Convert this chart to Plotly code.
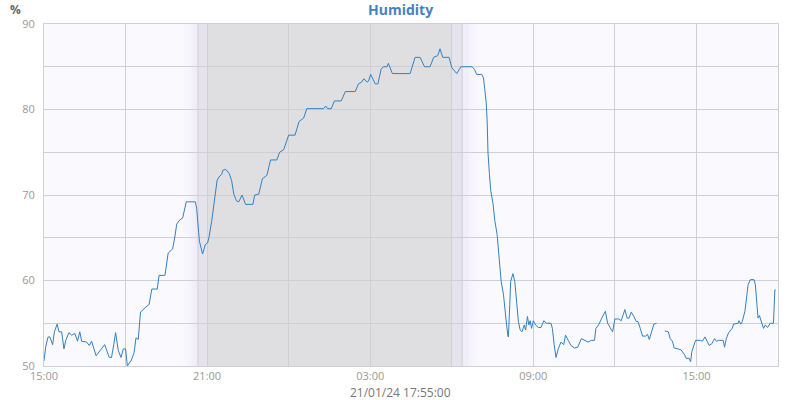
import plotly.graph_objects as go
import pandas as pd

# ---- data ----
times = [
    "2024-01-20 15:00", "2024-01-20 15:04", "2024-01-20 15:09", "2024-01-20 15:13", "2024-01-20 15:19",
    "2024-01-20 15:23", "2024-01-20 15:29", "2024-01-20 15:33", "2024-01-20 15:39", "2024-01-20 15:44",
    "2024-01-20 15:48", "2024-01-20 15:55", "2024-01-20 16:01", "2024-01-20 16:08", "2024-01-20 16:14",
    "2024-01-20 16:19", "2024-01-20 16:23", "2024-01-20 16:34", "2024-01-20 16:40", "2024-01-20 16:45",
    "2024-01-20 16:55", "2024-01-20 17:03", "2024-01-20 17:14", "2024-01-20 17:24", "2024-01-20 17:29",
    "2024-01-20 17:34", "2024-01-20 17:38", "2024-01-20 17:44", "2024-01-20 17:50", "2024-01-20 17:55",
    "2024-01-20 18:00", "2024-01-20 18:04", "2024-01-20 18:13", "2024-01-20 18:19", "2024-01-20 18:23",
    "2024-01-20 18:28", "2024-01-20 18:33", "2024-01-20 18:45", "2024-01-20 18:52", "2024-01-20 18:58",
    "2024-01-20 19:10", "2024-01-20 19:14", "2024-01-20 19:27", "2024-01-20 19:34", "2024-01-20 19:44",
    "2024-01-20 19:49", "2024-01-20 19:53", "2024-01-20 20:00", "2024-01-20 20:06", "2024-01-20 20:14",
    "2024-01-20 20:34", "2024-01-20 20:37", "2024-01-20 20:43", "2024-01-20 20:50", "2024-01-20 20:56",
    "2024-01-20 21:01", "2024-01-20 21:04", "2024-01-20 21:10", "2024-01-20 21:15", "2024-01-20 21:19",
    "2024-01-20 21:22", "2024-01-20 21:26", "2024-01-20 21:32", "2024-01-20 21:35", "2024-01-20 21:41",
    "2024-01-20 21:49", "2024-01-20 21:54", "2024-01-20 21:59", "2024-01-20 22:05", "2024-01-20 22:10",
    "2024-01-20 22:17", "2024-01-20 22:25", "2024-01-20 22:41", "2024-01-20 22:45", "2024-01-20 22:54",
    "2024-01-20 23:02", "2024-01-20 23:12", "2024-01-20 23:20", "2024-01-20 23:34", "2024-01-20 23:40",
    "2024-01-20 23:49", "2024-01-21 00:00", "2024-01-21 00:14", "2024-01-21 00:23", "2024-01-21 00:33",
    "2024-01-21 00:40", "2024-01-21 01:17", "2024-01-21 01:22", "2024-01-21 01:26", "2024-01-21 01:34",
    "2024-01-21 01:41", "2024-01-21 01:56", "2024-01-21 02:05", "2024-01-21 02:27", "2024-01-21 02:34",
    "2024-01-21 02:41", "2024-01-21 02:46", "2024-01-21 02:53", "2024-01-21 02:56", "2024-01-21 03:01",
    "2024-01-21 03:11", "2024-01-21 03:17", "2024-01-21 03:24", "2024-01-21 03:29", "2024-01-21 03:37",
    "2024-01-21 03:40", "2024-01-21 03:49", "2024-01-21 04:28", "2024-01-21 04:39", "2024-01-21 04:50",
    "2024-01-21 05:00", "2024-01-21 05:12", "2024-01-21 05:20", "2024-01-21 05:29", "2024-01-21 05:34",
    "2024-01-21 05:40", "2024-01-21 05:54", "2024-01-21 06:00", "2024-01-21 06:11", "2024-01-21 06:20",
    "2024-01-21 06:45", "2024-01-21 06:50", "2024-01-21 06:55", "2024-01-21 07:06", "2024-01-21 07:10",
    "2024-01-21 07:13", "2024-01-21 07:16", "2024-01-21 07:18", "2024-01-21 07:20", "2024-01-21 07:23",
    "2024-01-21 07:26", "2024-01-21 07:31", "2024-01-21 07:35", "2024-01-21 07:40", "2024-01-21 07:43",
    "2024-01-21 07:46", "2024-01-21 07:49", "2024-01-21 07:54", "2024-01-21 07:58", "2024-01-21 08:01",
    "2024-01-21 08:04", "2024-01-21 08:05", "2024-01-21 08:08", "2024-01-21 08:10", "2024-01-21 08:15",
    "2024-01-21 08:19", "2024-01-21 08:23", "2024-01-21 08:27", "2024-01-21 08:31", "2024-01-21 08:35",
    "2024-01-21 08:40", "2024-01-21 08:43", "2024-01-21 08:47", "2024-01-21 08:50", "2024-01-21 08:53",
    "2024-01-21 08:56", "2024-01-21 09:00", "2024-01-21 09:05", "2024-01-21 09:11", "2024-01-21 09:17",
    "2024-01-21 09:23", "2024-01-21 09:29", "2024-01-21 09:39", "2024-01-21 09:42", "2024-01-21 09:46",
    "2024-01-21 09:50", "2024-01-21 09:55", "2024-01-21 10:01", "2024-01-21 10:07", "2024-01-21 10:11",
    "2024-01-21 10:17", "2024-01-21 10:23", "2024-01-21 10:31", "2024-01-21 10:38", "2024-01-21 10:46",
    "2024-01-21 10:53", "2024-01-21 11:01", "2024-01-21 11:08", "2024-01-21 11:15", "2024-01-21 11:18",
    "2024-01-21 11:24", "2024-01-21 11:31", "2024-01-21 11:39", "2024-01-21 11:44", "2024-01-21 11:50",
    "2024-01-21 11:55", "2024-01-21 12:00", "2024-01-21 12:08", "2024-01-21 12:14", "2024-01-21 12:22",
    "2024-01-21 12:27", "2024-01-21 12:31", "2024-01-21 12:36", "2024-01-21 12:42", "2024-01-21 12:47",
    "2024-01-21 12:51", "2024-01-21 12:56", "2024-01-21 13:01", "2024-01-21 13:08", "2024-01-21 13:12",
    "2024-01-21 13:16", "2024-01-21 13:21", "2024-01-21 13:26", "2024-01-21 13:32", "2024-01-21 13:41",
    "2024-01-21 13:50", "2024-01-21 13:58", "2024-01-21 14:02", "2024-01-21 14:07", "2024-01-21 14:11",
    "2024-01-21 14:22", "2024-01-21 14:26", "2024-01-21 14:34", "2024-01-21 14:37", "2024-01-21 14:44",
    "2024-01-21 14:47", "2024-01-21 14:50", "2024-01-21 14:54", "2024-01-21 14:58", "2024-01-21 15:09",
    "2024-01-21 15:13", "2024-01-21 15:19", "2024-01-21 15:24", "2024-01-21 15:28", "2024-01-21 15:34",
    "2024-01-21 15:40", "2024-01-21 15:44", "2024-01-21 15:49", "2024-01-21 15:59", "2024-01-21 16:02",
    "2024-01-21 16:06", "2024-01-21 16:11", "2024-01-21 16:19", "2024-01-21 16:22", "2024-01-21 16:32",
    "2024-01-21 16:34", "2024-01-21 16:38", "2024-01-21 16:41", "2024-01-21 16:47", "2024-01-21 16:52",
    "2024-01-21 16:54", "2024-01-21 16:59", "2024-01-21 17:07", "2024-01-21 17:10", "2024-01-21 17:13",
    "2024-01-21 17:16", "2024-01-21 17:19", "2024-01-21 17:22", "2024-01-21 17:28", "2024-01-21 17:32",
    "2024-01-21 17:37", "2024-01-21 17:43", "2024-01-21 17:50", "2024-01-21 17:52", "2024-01-21 17:53",
    "2024-01-21 17:55",
]
humidity = [
    50.6, 52.3, 53.4, 53.4, 52.5,
    54.0, 54.9, 54.0, 54.0, 52.0,
    53.0, 53.9, 53.6, 53.8, 52.9,
    54.0, 52.9, 52.8, 52.4, 52.9,
    51.2, 51.7, 52.5, 51.0, 51.0,
    52.5, 53.9, 51.8, 51.0, 52.0,
    52.0, 50.0, 50.7, 51.6, 53.3,
    53.1, 56.3, 56.9, 57.2, 59.0,
    59.0, 60.6, 60.6, 63.2, 63.7,
    65.2, 66.6, 67.1, 67.3, 69.2,
    69.2, 68.4, 64.6, 63.1, 64.2,
    64.4, 65.0, 66.9, 68.9, 70.1,
    71.7, 72.1, 72.4, 72.9, 73.0,
    72.5, 71.7, 70.1, 69.3, 69.2,
    70.0, 68.9, 68.9, 70.0, 70.1,
    71.9, 72.3, 74.1, 74.1, 75.0,
    75.3, 77.0, 77.0, 78.6, 79.0,
    80.1, 80.1, 80.4, 80.1, 80.1,
    81.0, 81.0, 82.1, 82.1, 83.0,
    83.2, 83.6, 83.2, 83.3, 84.1,
    83.0, 83.0, 84.7, 85.0, 85.0,
    85.4, 84.2, 84.2, 86.1, 86.1,
    85.0, 85.0, 86.1, 86.3, 87.1,
    86.1, 86.1, 84.9, 84.2, 85.0,
    85.0, 84.7, 84.1, 84.1, 83.7,
    82.3, 80.8, 78.8, 74.9, 72.5,
    70.5, 69.0, 67.0, 65.4, 63.5,
    61.9, 59.9, 58.4, 56.0, 54.8,
    53.5, 53.4, 57.2, 59.9, 60.8,
    59.9, 57.6, 55.2, 54.2, 54.0,
    54.8, 54.2, 55.8, 54.8, 55.3,
    54.4, 55.3, 54.8, 54.5, 54.5,
    55.3, 55.0, 55.0, 54.4, 52.5,
    51.0, 52.0, 52.8, 52.5, 53.6,
    53.0, 52.4, 52.1, 52.2, 53.2,
    53.0, 52.8, 53.0, 53.0, 54.4,
    54.8, 55.6, 56.4, 55.0, 54.4,
    54.0, 55.5, 55.5, 55.3, 56.6,
    55.6, 55.6, 56.3, 55.8, 55.2,
    55.2, 54.4, 53.5, 53.5, 53.7,
    53.1, 54.1, 54.9, 55.0, None,
    54.1, 54.0, 53.2, 52.9, 52.1,
    52.0, 51.9, 51.3, 50.9, 50.9,
    50.5, 51.7, 52.5, 53.0, 53.0,
    52.9, 53.4, 52.9, 52.4, 52.6,
    53.2, 52.9, 53.0, 53.0, 52.2,
    53.2, 53.9, 54.4, 54.9, 55.0,
    55.3, 54.9, 55.2, 56.4, 58.4,
    59.5, 60.1, 60.1, 59.5, 57.6,
    55.6, 55.9, 55.4, 54.4, 54.8,
    54.5, 55.0, 55.0, 57.6, 58.9,
    58.9,
]

x_range = ["2024-01-20 15:00", "2024-01-21 18:00"]
y_range = [50, 90]

# twilight / night periods
dusk_fade_start = "2024-01-20 20:05"
dusk_start = "2024-01-20 20:40"
night_start = "2024-01-20 21:00"
night_end = "2024-01-21 06:00"
dawn_end = "2024-01-21 06:23"
dawn_fade_end = "2024-01-21 07:05"

title_text = "Humidity"
unit_text = "%"
footer_text = "21/01/24 17:55:00"

# ---- styles ----
BG = (250, 249, 254)
TW = (236, 232, 248)
BAND = "#e5e4ee"
NIGHT = "#dfdfe2"
GRID = "#cfcfd4"
LINE = "#3380c0"


def mix(a, b, t):
    return "rgb(%d,%d,%d)" % tuple(round(a[i] + (b[i] - a[i]) * t) for i in range(3))


shapes = []
n = 16
d0, d1 = pd.Timestamp(dusk_fade_start), pd.Timestamp(dusk_start)
for i in range(n):
    s = d0 + (d1 - d0) * i / n
    e = d0 + (d1 - d0) * (i + 1) / n
    shapes.append(dict(type="rect", xref="x", yref="paper", x0=s, x1=e, y0=0, y1=1,
                       fillcolor=mix(BG, TW, ((i + 0.5) / n) ** 1.3), line_width=0, layer="below"))
a0, a1 = pd.Timestamp(dawn_end), pd.Timestamp(dawn_fade_end)
for i in range(n):
    s = a0 + (a1 - a0) * i / n
    e = a0 + (a1 - a0) * (i + 1) / n
    shapes.append(dict(type="rect", xref="x", yref="paper", x0=s, x1=e, y0=0, y1=1,
                       fillcolor=mix(BG, TW, (1 - (i + 0.5) / n) ** 1.3), line_width=0, layer="below"))
shapes.append(dict(type="rect", xref="x", yref="paper", x0=dusk_start, x1=night_start, y0=0, y1=1,
                   fillcolor=BAND, line_width=0, layer="below"))
shapes.append(dict(type="rect", xref="x", yref="paper", x0=night_end, x1=dawn_end, y0=0, y1=1,
                   fillcolor=BAND, line_width=0, layer="below"))
shapes.append(dict(type="rect", xref="x", yref="paper", x0=night_start, x1=night_end, y0=0, y1=1,
                   fillcolor=NIGHT, line_width=0, layer="below"))
for t in (dusk_start, dawn_end):
    shapes.append(dict(type="line", xref="x", yref="paper", x0=t, x1=t, y0=0, y1=1,
                       line=dict(color=GRID, width=1), layer="below"))

fig = go.Figure()
fig.add_trace(go.Scatter(x=times, y=humidity, mode="lines",
                         line=dict(color=LINE, width=1), connectgaps=False,
                         hoverinfo="x+y"))

fig.update_layout(
    width=800, height=400,
    margin=dict(l=44, r=22, t=24, b=34),
    paper_bgcolor="white",
    plot_bgcolor="rgb(%d,%d,%d)" % BG,
    showlegend=False,
    shapes=shapes,
    font=dict(family="Open Sans", color="#999999", size=11),
    annotations=[
        dict(text="<b>%s</b>" % title_text, xref="paper", yref="paper", x=0.486, y=1.041,
             xanchor="center", yanchor="middle", showarrow=False,
             font=dict(size=14, color="#4682bb", family="Open Sans")),
        dict(text="<b>%s</b>" % unit_text, xref="paper", yref="paper", x=-0.039, y=1.041,
             xanchor="center", yanchor="middle", showarrow=False,
             font=dict(size=12, color="#666666", family="Open Sans")),
        dict(text=footer_text, xref="paper", yref="paper", x=0.486, y=-0.077,
             xanchor="center", yanchor="middle", showarrow=False,
             font=dict(size=12, color="#777777", family="Open Sans")),
    ],
)

fig.update_xaxes(
    type="date", range=x_range, tickformat="%H:%M",
    tick0="2024-01-20 15:00", dtick=6 * 3600 * 1000,
    showgrid=True, gridcolor=GRID, gridwidth=1,
    minor=dict(dtick=3 * 3600 * 1000, tick0="2024-01-20 15:00", showgrid=True, gridcolor=GRID, gridwidth=1),
    showline=True, linecolor=GRID, linewidth=1, mirror=True,
    ticks="", ticklabelstandoff=0, zeroline=False,
    tickfont=dict(size=11, color="#999999"),
)
fig.update_yaxes(
    range=y_range, dtick=10, tick0=50,
    showgrid=True, gridcolor=GRID, gridwidth=1,
    minor=dict(dtick=5, showgrid=True, gridcolor=GRID, gridwidth=1),
    showline=True, linecolor=GRID, linewidth=1, mirror=True,
    ticks="", ticklabelstandoff=6, zeroline=False,
    tickfont=dict(size=11, color="#999999"),
)

fig.write_html("out.html", config={"displayModeBar": False},
               post_script="document.body.style.margin='0';document.body.style.overflow='hidden';")
